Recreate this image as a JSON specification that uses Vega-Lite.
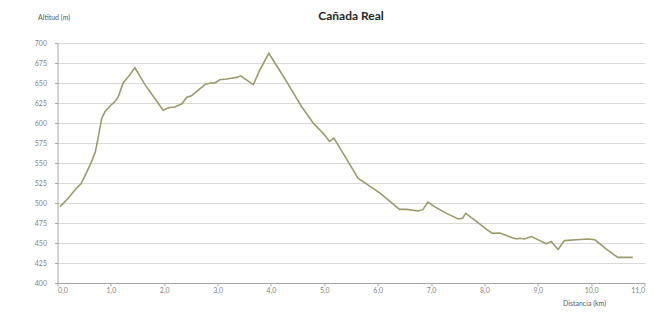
{
  "$schema": "https://vega.github.io/schema/vega-lite/v6.json",
  "width": 587,
  "height": 240,
  "autosize": {"type": "none"},
  "padding": {"left": 57.5, "top": 43, "right": 11.5, "bottom": 33},
  "background": "white",
  "title": {
    "text": "Cañada Real",
    "font": "Lato",
    "fontSize": 12,
    "fontWeight": "bold",
    "color": "#262626",
    "anchor": "middle",
    "offset": 4,
    "dy": 14
  },
  "config": {
    "view": {"stroke": null},
    "axis": {
      "labelFont": "Lato",
      "titleFont": "Lato",
      "labelFontSize": 7,
      "labelColor": "#7f7f7f",
      "titleFontSize": 7,
      "titleFontWeight": "normal",
      "titleColor": "#595959",
      "domainColor": "#a6a6a6",
      "tickColor": "#a6a6a6",
      "tickSize": 3,
      "gridColor": "#d9d9d9"
    }
  },
  "data": {
    "values": [
      {"km": 0.05, "alt": 495.5},
      {"km": 0.2, "alt": 506},
      {"km": 0.36, "alt": 519},
      {"km": 0.44, "alt": 524},
      {"km": 0.55, "alt": 539},
      {"km": 0.64, "alt": 552},
      {"km": 0.71, "alt": 564},
      {"km": 0.76, "alt": 581},
      {"km": 0.83, "alt": 606},
      {"km": 0.89, "alt": 614},
      {"km": 0.98, "alt": 621},
      {"km": 1.08, "alt": 627},
      {"km": 1.14, "alt": 633},
      {"km": 1.23, "alt": 650},
      {"km": 1.33, "alt": 658},
      {"km": 1.45, "alt": 669},
      {"km": 1.64, "alt": 648},
      {"km": 1.83, "alt": 630},
      {"km": 1.98, "alt": 616},
      {"km": 2.08, "alt": 619},
      {"km": 2.2, "alt": 620},
      {"km": 2.33, "alt": 624},
      {"km": 2.42, "alt": 632},
      {"km": 2.51, "alt": 634},
      {"km": 2.64, "alt": 641},
      {"km": 2.76, "alt": 648},
      {"km": 2.86, "alt": 650},
      {"km": 2.95, "alt": 650},
      {"km": 3.04, "alt": 654},
      {"km": 3.17, "alt": 655},
      {"km": 3.26, "alt": 656},
      {"km": 3.36, "alt": 657},
      {"km": 3.43, "alt": 659},
      {"km": 3.54, "alt": 654},
      {"km": 3.67, "alt": 648},
      {"km": 3.79, "alt": 666},
      {"km": 3.96, "alt": 687},
      {"km": 4.17, "alt": 665},
      {"km": 4.29, "alt": 652},
      {"km": 4.57, "alt": 621},
      {"km": 4.79, "alt": 600},
      {"km": 4.98, "alt": 587},
      {"km": 5.1, "alt": 577},
      {"km": 5.18, "alt": 581},
      {"km": 5.29, "alt": 569},
      {"km": 5.48, "alt": 548},
      {"km": 5.63, "alt": 531},
      {"km": 5.85, "alt": 521},
      {"km": 6.05, "alt": 512},
      {"km": 6.23, "alt": 502},
      {"km": 6.41, "alt": 492},
      {"km": 6.54, "alt": 492},
      {"km": 6.76, "alt": 490},
      {"km": 6.85, "alt": 492},
      {"km": 6.94, "alt": 501},
      {"km": 7.1, "alt": 494},
      {"km": 7.29, "alt": 487},
      {"km": 7.51, "alt": 480},
      {"km": 7.59, "alt": 481},
      {"km": 7.65, "alt": 487},
      {"km": 7.85, "alt": 477},
      {"km": 8.04, "alt": 467},
      {"km": 8.15, "alt": 462},
      {"km": 8.29, "alt": 462.5},
      {"km": 8.51, "alt": 457},
      {"km": 8.6, "alt": 455},
      {"km": 8.66, "alt": 456},
      {"km": 8.75, "alt": 455},
      {"km": 8.88, "alt": 458},
      {"km": 9.04, "alt": 453},
      {"km": 9.16, "alt": 449},
      {"km": 9.25, "alt": 452},
      {"km": 9.38, "alt": 442},
      {"km": 9.5, "alt": 453},
      {"km": 9.72, "alt": 454},
      {"km": 9.94, "alt": 455},
      {"km": 10.07, "alt": 454},
      {"km": 10.29, "alt": 442},
      {"km": 10.5, "alt": 432},
      {"km": 10.78, "alt": 432}
    ]
  },
  "mark": {"type": "line", "color": "#9b9a6b", "strokeWidth": 1.6, "interpolate": "linear"},
  "encoding": {
    "x": {
      "field": "km",
      "type": "quantitative",
      "scale": {"domain": [0, 11], "nice": false},
      "axis": {
        "values": [0, 1, 2, 3, 4, 5, 6, 7, 8, 9, 10, 11],
        "labelExpr": "replace(format(datum.value, '.1f'), '.', ',')",
        "grid": false,
        "labelPadding": 0,
        "title": "Distancia (km)",
        "titleAlign": "left",
        "titleBaseline": "middle",
        "titleX": 505,
        "titleY": 20
      }
    },
    "y": {
      "field": "alt",
      "type": "quantitative",
      "scale": {"domain": [400, 700], "nice": false, "zero": false},
      "axis": {
        "values": [400, 425, 450, 475, 500, 525, 550, 575, 600, 625, 650, 675, 700],
        "grid": true,
        "labelPadding": 8,
        "title": "Altitud (m)",
        "titleAngle": 0,
        "titleAlign": "left",
        "titleBaseline": "middle",
        "titleX": -20,
        "titleY": -26
      }
    }
  }
}
